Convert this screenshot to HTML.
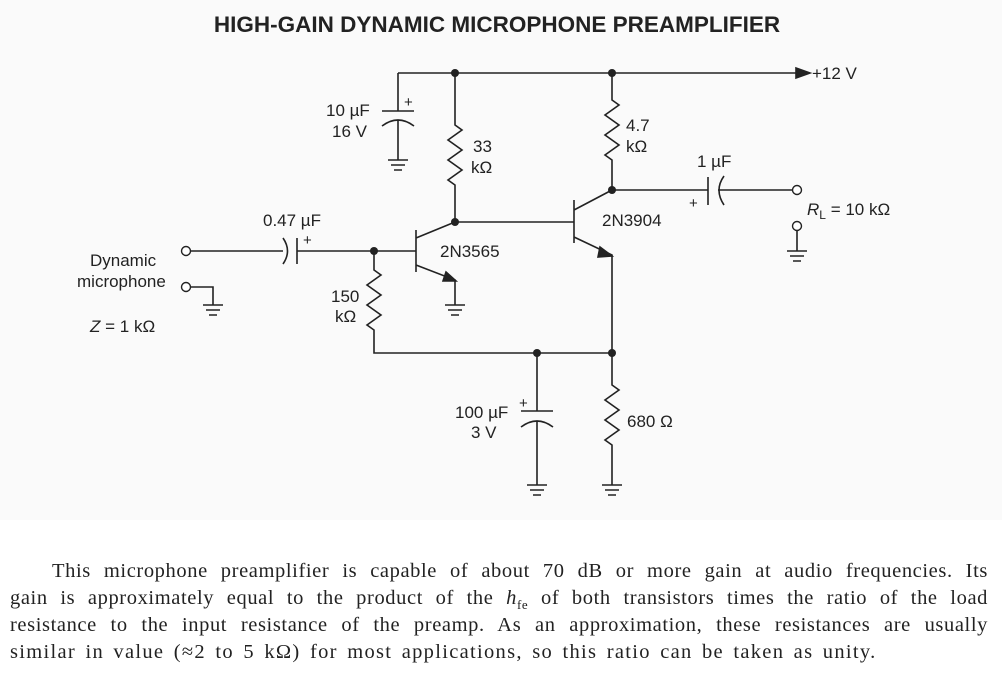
<!DOCTYPE html>
<html><head><style>
html,body{margin:0;padding:0;background:#fff;}
body{width:1002px;height:680px;overflow:hidden;position:relative;}
svg{position:absolute;left:0;top:0;}
.t{font-family:"Liberation Sans",sans-serif;font-size:17px;fill:#222;}
.p{position:absolute;left:10px;width:978px;margin:0;font-family:"Liberation Serif",serif;font-size:20.5px;line-height:27px;color:#222;text-align:justify;text-align-last:justify;white-space:nowrap;letter-spacing:0.6px;}
sub{font-size:13px;line-height:0;}
</style></head><body>
<svg width="1002" height="680" viewBox="0 0 1002 680">
<rect x="0" y="0" width="1002" height="520" fill="#fafafa"/>
<text x="497" y="32" text-anchor="middle" font-family="Liberation Sans,sans-serif" font-weight="bold" font-size="22.5" fill="#222">HIGH-GAIN DYNAMIC MICROPHONE PREAMPLIFIER</text>
<g stroke="#222" stroke-width="1.6" fill="none">
<path d="M398 73 H800"/>
<path d="M796 68 L810 73 L796 78 Z" fill="#222"/>
<path d="M398 73 V111 M382 111 H414 M382 126 Q398 114 414 126 M398 120 V160"/>
<path d="M388 160 H408 M391 165 H405 M394 170 H402"/>
<path d="M455 73 V125 L462 130 L448 140 L462 150 L448 160 L462 170 L448 180 L455 185 V222"/>
<path d="M416 230 V272 M416 238 L455 222 M416 265 L455 280 V305"/>
<path d="M446 272 L456 281 L443 281 Z" fill="#222"/>
<path d="M445 305 H465 M448 310 H462 M451 315 H459"/>
<path d="M190 251 H283 M283 238 Q292 251 283 264 M297 238 V264 M297 251 H416"/>
<path d="M374 251 V270 L381 275 L367 285 L381 295 L367 305 L381 315 L367 325 L374 330 V353 H612"/>
<path d="M190 287 H213 V305 M203 305 H223 M206 310 H220 M209 315 H217"/>
<path d="M455 222 H574 M574 200 V243 M574 210 L612 190 M574 237 L612 255 V353"/>
<path d="M600 247 L612 256 L598 257 Z" fill="#222"/>
<path d="M612 73 V100 L619 105 L605 115 L619 125 L605 135 L619 145 L605 155 L612 160 V190"/>
<path d="M612 190 H708 M708 177 V205 M724 176 Q714 190 724 205 M718 190 H792"/>
<path d="M797 231 V251 M787 251 H807 M790 256 H804 M793 261 H801"/>
<path d="M537 353 V411 M521 411 H553 M521 427 Q537 415 553 427 M537 421 V485"/>
<path d="M527 485 H547 M530 490 H544 M533 495 H541"/>
<path d="M612 353 V385 L619 390 L605 400 L619 410 L605 420 L619 430 L605 440 L612 445 V485"/>
<path d="M602 485 H622 M605 490 H619 M608 495 H616"/>
</g>
<g fill="#222">
<circle cx="455" cy="73" r="4"/><circle cx="612" cy="73" r="4"/>
<circle cx="455" cy="222" r="4"/><circle cx="612" cy="190" r="4"/>
<circle cx="374" cy="251" r="4"/><circle cx="537" cy="353" r="4"/><circle cx="612" cy="353" r="4"/>
</g>
<g stroke="#222" stroke-width="1.4" fill="#fff">
<circle cx="186" cy="251" r="4.5"/><circle cx="186" cy="287" r="4.5"/>
<circle cx="797" cy="190" r="4.5"/><circle cx="797" cy="226" r="4.5"/>
</g>
<g class="t">
<text x="812" y="79">+12 V</text>
<text x="326" y="116">10 µF</text><text x="332" y="137">16 V</text><text x="404" y="107" font-size="15">+</text>
<text x="473" y="152">33</text><text x="471" y="173">kΩ</text>
<text x="626" y="131">4.7</text><text x="626" y="152">kΩ</text>
<text x="697" y="167">1 µF</text><text x="689" y="208" font-size="15">+</text>
<text x="807" y="215"><tspan font-style="italic">R</tspan><tspan font-size="12" dy="4">L</tspan><tspan dy="-4"> = 10 kΩ</tspan></text>
<text x="602" y="226">2N3904</text>
<text x="263" y="226">0.47 µF</text><text x="303" y="245" font-size="15">+</text>
<text x="440" y="257">2N3565</text>
<text x="90" y="266">Dynamic</text><text x="77" y="287">microphone</text>
<text x="90" y="332"><tspan font-style="italic">Z</tspan> = 1 kΩ</text>
<text x="331" y="302">150</text><text x="335" y="322">kΩ</text>
<text x="455" y="418">100 µF</text><text x="471" y="438">3 V</text><text x="519" y="408" font-size="15">+</text>
<text x="627" y="427">680 Ω</text>
</g>
</svg>
<div class="p" style="top:558px;left:52px;width:936px;">This microphone preamplifier is capable of about 70 dB or more gain at audio frequencies. Its</div>
<div class="p" style="top:585px;">gain is approximately equal to the product of the <i>h</i><sub>fe</sub> of both transistors times the ratio of the load</div>
<div class="p" style="top:612px;">resistance to the input resistance of the preamp. As an approximation, these resistances are usually</div>
<div class="p" style="top:639px;text-align-last:left;letter-spacing:1.3px;word-spacing:3px;">similar in value (≈2 to 5 kΩ) for most applications, so this ratio can be taken as unity.</div>
</body></html>
